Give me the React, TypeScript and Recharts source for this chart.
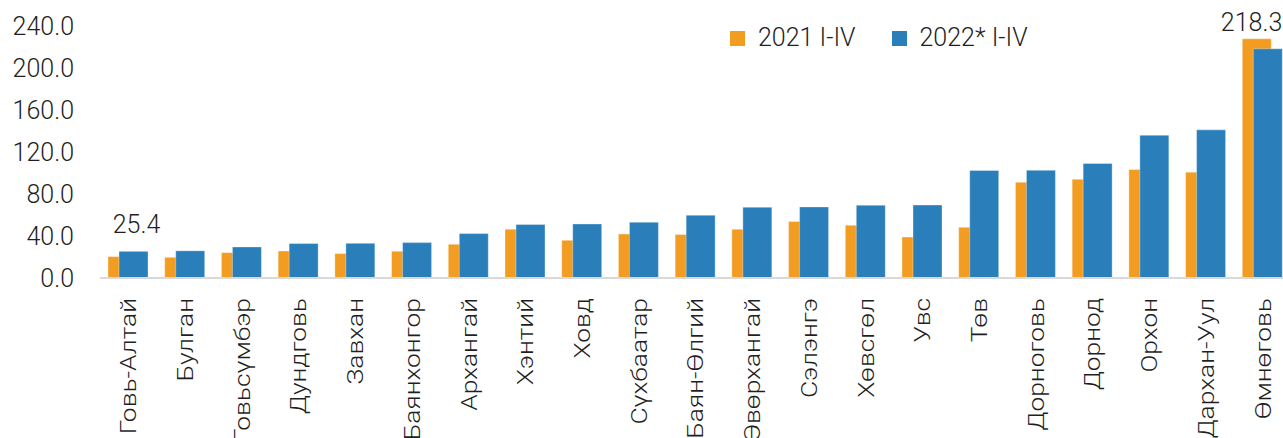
import { BarChart, Bar, XAxis, YAxis, LabelList } from 'recharts'

// ── Data ─────────────────────────────────────────────────
const aimags = [
  'Говь-Алтай', 'Булган', 'Говьсүмбэр', 'Дундговь', 'Завхан', 'Баянхонгор', 'Архангай',
  'Хэнтий', 'Ховд', 'Сүхбаатар', 'Баян-Өлгий', 'Өвөрхангай', 'Сэлэнгэ', 'Хөвсгөл',
  'Увс', 'Төв', 'Дорноговь', 'Дорнод', 'Орхон', 'Дархан-Уул', 'Өмнөговь',
]
const y2021 = [
  20.4, 19.7, 24.2, 25.7, 23.3, 25.5, 32.1, 46.4, 35.9, 41.9, 41.4,
  46.4, 53.8, 50.2, 39.1, 48.3, 91.2, 94.1, 103.3, 100.8, 227.8,
]
const y2022 = [
  25.4, 25.9, 29.6, 32.8, 33.0, 33.7, 42.3, 50.9, 51.5, 53.1, 59.8,
  67.4, 67.7, 69.3, 69.5, 102.4, 102.6, 109.1, 136.0, 141.1, 218.3,
]
const yTicks = [0, 40, 80, 120, 160, 200, 240]
const labelledIdx = [0, aimags.length - 1]

const SERIES = [
  { key: 'a2021', name: '2021 I-IV', color: '#f29d22' },
  { key: 'a2022', name: '2022* I-IV', color: '#2a7fba' },
]

const FONT = 'Roboto, "Noto Sans", sans-serif'
const WEIGHT = 300
const TEXT = '#1f1f1f'

const data = aimags.map((name, i) => ({ name, a2021: y2021[i], a2022: y2022[i] }))

// ── Ticks / labels ───────────────────────────────────────
// category names are drawn rotated and a bit stretched along the text, like the source
function AimagTick({ x, y, payload }: any) {
  return (
    <text
      transform={`translate(${x}, ${y + 20}) rotate(-90) scale(1.2, 1)`}
      textAnchor="end"
      dy="0.36em"
      fontSize={22}
      fontWeight={WEIGHT}
      fontFamily={FONT}
      fill={TEXT}
    >
      {payload.value}
    </text>
  )
}

function EndLabel({ x, y, width, value, index }: any) {
  if (!labelledIdx.includes(index)) return null
  const last = index === aimags.length - 1
  return (
    <text
      x={last ? x + width : x + width / 2 + 3}
      y={y - 18}
      textAnchor={last ? 'end' : 'middle'}
      fontSize={25}
      fontWeight={WEIGHT}
      fontFamily={FONT}
      fill={TEXT}
    >
      {Number(value).toFixed(1)}
    </text>
  )
}

function LegendBox() {
  return (
    <div style={{
      position: 'absolute', left: 730, top: 23, display: 'flex', alignItems: 'center',
      fontFamily: FONT, fontWeight: WEIGHT, fontSize: 25, color: TEXT, lineHeight: '30px',
    }}>
      {SERIES.map(s => (
        <div key={s.key} style={{ display: 'flex', alignItems: 'center', marginRight: 36 }}>
          <span style={{ width: 15, height: 15, background: s.color, marginRight: 13 }} />
          <span>{s.name}</span>
        </div>
      ))}
    </div>
  )
}

export default function App() {
  return (
    <div style={{ position: 'absolute', left: 0, top: 0, width: 1283, height: 438, overflow: 'hidden', background: '#fff' }}>
      <BarChart
        width={1292}
        height={438}
        data={data}
        margin={{ top: 26, right: 1, left: 0, bottom: 0 }}
        barSize={29}
        barGap={-18}
      >
        <XAxis
          dataKey="name"
          interval={0}
          height={160}
          tickSize={0}
          tickMargin={0}
          tickLine={false}
          axisLine={{ stroke: '#d9d9d9', strokeWidth: 2 }}
          tick={<AimagTick />}
        />
        <YAxis
          width={100}
          domain={[0, 240]}
          ticks={yTicks}
          interval={0}
          axisLine={false}
          tickLine={false}
          tickSize={0}
          tickMargin={26}
          tickFormatter={(v: number) => v.toFixed(1)}
          tick={{ fontSize: 25, fontWeight: WEIGHT, fontFamily: FONT, fill: TEXT }}
        />
        {SERIES.map(s => (
          <Bar
            key={s.key}
            dataKey={s.key}
            name={s.name}
            fill={s.color}
            stroke="#ffffff"
            strokeOpacity={0.35}
            strokeWidth={1}
            isAnimationActive={false}
          >
            {s.key === 'a2022' && <LabelList dataKey={s.key} content={<EndLabel />} />}
          </Bar>
        ))}
      </BarChart>
      <LegendBox />
    </div>
  )
}
